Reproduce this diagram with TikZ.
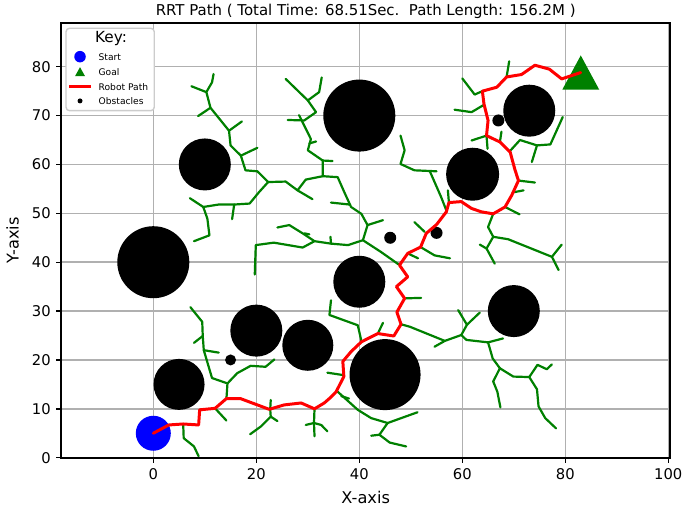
\documentclass[tikz,border=0pt]{standalone}
\usepackage{fontspec}
\setmainfont{DejaVu Sans}
\usetikzlibrary{positioning}
\definecolor{treegreen}{HTML}{008000}
\definecolor{gridgray}{HTML}{B0B0B0}
\definecolor{keyframe}{HTML}{CCCCCC}

\begin{document}
\begin{tikzpicture}[x=0.103cm, y=0.09775cm,
    font=\fontsize{8.4}{10}\selectfont,
    gridline/.style={draw=gridgray, line width=0.9pt},
    branch/.style  ={draw=treegreen, line width=1.25pt, line join=round, line cap=round},
    robot/.style   ={draw=red, line width=1.7pt, line join=round, line cap=round},
    tlabel/.style  ={inner sep=0pt},
    keytext/.style ={font=\fontsize{5.2}{6}\selectfont, anchor=west, inner sep=0pt},
  ]
  \useasboundingbox (-29.77,-10.09) rectangle (103.24,93.65);
  % grid
  \foreach \x in {0,20,...,100}
    \draw[gridline] (\x,0) -- (\x,88.9);
  \foreach \y in {0,10,...,80}
    \draw[gridline] (-17.92,\y) -- (100.4,\y);
  % obstacles
  \foreach \cx/\cy/\r in {40/70/0.72cm, 10/60/0.52cm, 0/40/0.72cm, 62/58/0.53cm, 73/71/0.52cm,
      40/36/0.52cm, 70/30/0.52cm, 20/26/0.52cm, 30/23/0.51cm, 45/17/0.71cm, 5/15/0.51cm,
      15/20/0.11cm, 46/45/0.12cm, 55/46/0.12cm, 67/69/0.12cm}
    \fill (\cx,\cy) circle[radius=\r];
  % tree
  \draw[branch] (11.7,78.5) -- (11.4,76.8) -- (10.3,74.8) -- (11.1,71.6) -- (14.7,66.9) -- (15.0,63.9) -- (17.0,61.8) -- (17.9,58.8) -- (20.2,58.6) -- (22.3,56.4);
  \draw[branch] (10.3,74.8) -- (7.4,76.0);
  \draw[branch] (11.1,71.6) -- (8.7,69.9);
  \draw[branch] (14.7,66.9) -- (17.2,68.8);
  \draw[branch] (17.0,61.8) -- (20.2,63.4);
  \draw[branch] (7.1,53.1) -- (9.7,51.3) -- (12.7,51.8) -- (15.7,51.8) -- (18.7,52.0) -- (20.5,54.3) -- (22.3,56.4);
  \draw[branch] (15.7,51.8) -- (15.3,48.8);
  \draw[branch] (9.7,51.3) -- (10.5,48.9) -- (10.9,45.5) -- (7.9,44.3);
  \draw[branch] (19.7,37.5) -- (19.9,43.5) -- (23.4,44.0) -- (29.0,43.0) -- (31.3,44.3) -- (34.5,43.8) -- (37.8,43.5) -- (40.7,44.5);
  \draw[branch] (24.1,47.1) -- (26.4,47.6) -- (29.0,45.9) -- (31.3,44.3);
  \draw[branch] (29.3,45.9) -- (30.3,45.7);
  \draw[branch] (34.4,45.2) -- (34.5,43.8);
  \draw[branch] (22.3,56.4) -- (25.7,56.5) -- (28.0,54.7) -- (30.9,52.9);
  \draw[branch] (28.0,54.7) -- (29.6,56.9) -- (32.9,57.6) -- (35.8,57.4) -- (37.1,54.3) -- (38.4,51.3) -- (40.4,49.9) -- (41.6,47.6) -- (40.7,44.5) -- (44.2,42.1) -- (47.7,39.5);
  \draw[branch] (34.5,52.2) -- (38.1,51.8);
  \draw[branch] (41.6,47.6) -- (44.6,48.6);
  \draw[branch] (32.9,57.6) -- (32.9,60.8) -- (30.0,62.9) -- (30.6,65.2) -- (28.3,70.1);
  \draw[branch] (32.9,60.8) -- (34.8,60.7);
  \draw[branch] (30.3,64.3) -- (31.6,64.7);
  \draw[branch] (25.7,77.5) -- (30.0,73.1) -- (31.6,70.7) -- (29.3,69.0) -- (26.1,69.1);
  \draw[branch] (30.0,73.1) -- (32.2,74.8) -- (32.7,77.8);
  \draw[branch] (48.0,65.9) -- (48.8,62.9) -- (48.0,60.1) -- (50.7,58.8) -- (55.0,58.6);
  \draw[branch] (53.7,58.6) -- (55.9,53.3) -- (56.9,50.6);
  \draw[branch] (57.2,54.7) -- (57.4,52.2);
  \draw[branch] (50.7,48.2) -- (52.7,46.2);
  \draw[branch] (51.9,43.1) -- (54.6,41.4) -- (57.6,40.8);
  \draw[branch] (49.4,41.8) -- (51.4,40.8);
  \draw[branch] (48.8,32.6) -- (52.0,32.7);
  \draw[branch] (34.5,32.2) -- (34.2,29.2) -- (39.7,27.1) -- (40.4,23.9);
  \draw[branch] (43.6,25.4) -- (44.6,27.6);
  \draw[branch] (58.5,71.2) -- (61.8,70.7) -- (64.2,72.2);
  \draw[branch] (60.0,77.6) -- (62.4,74.3) -- (63.9,75.0);
  \draw[branch] (69.1,81.1) -- (68.6,77.9);
  \draw[branch] (61.8,64.9) -- (64.7,65.9) -- (64.9,63.2);
  \draw[branch] (67.6,66.7) -- (67.3,64.6);
  \draw[branch] (69.3,62.8) -- (71.2,65.0) -- (74.5,63.9) -- (77.1,64.1) -- (79.5,69.7);
  \draw[branch] (74.5,63.9) -- (73.5,60.5);
  \draw[branch] (70.9,56.7) -- (74.1,56.3);
  \draw[branch] (69.9,54.3) -- (71.9,54.7);
  \draw[branch] (68.3,51.3) -- (71.1,49.8);
  \draw[branch] (66.0,49.9) -- (65.0,47.2) -- (66.0,45.2) -- (64.7,42.8) -- (63.4,43.6);
  \draw[branch] (64.7,42.8) -- (66.3,39.7);
  \draw[branch] (66.0,45.2) -- (68.9,44.7) -- (71.5,43.6) -- (77.4,41.1) -- (79.3,43.6);
  \draw[branch] (77.4,41.1) -- (78.7,38.4);
  \draw[branch] (48.1,27.3) -- (49.8,26.8) -- (56.6,23.9) -- (59.8,25.1) -- (60.8,24.1) -- (65.0,23.6) -- (67.9,24.4);
  \draw[branch] (56.6,23.9) -- (54.6,22.7);
  \draw[branch] (59.8,25.1) -- (60.9,27.2) -- (63.4,29.7);
  \draw[branch] (60.9,27.2) -- (59.2,30.2);
  \draw[branch] (65.0,23.6) -- (65.9,20.3) -- (67.3,18.3) -- (69.9,16.6) -- (73.0,16.5) -- (74.6,19.0) -- (76.4,18.1) -- (77.4,19.1);
  \draw[branch] (73.0,16.5) -- (74.5,14.0) -- (74.8,10.5) -- (76.1,8.1) -- (78.2,6.0);
  \draw[branch] (67.3,18.3) -- (66.0,15.6) -- (66.8,13.5) -- (67.4,10.3);
  \draw[branch] (33.8,17.4) -- (36.9,16.9);
  \draw[branch] (35.8,13.5) -- (39.7,9.8) -- (42.3,8.1) -- (45.5,7.1) -- (51.3,9.3);
  \draw[branch] (45.5,7.1) -- (43.9,4.7) -- (45.9,3.1) -- (49.1,2.3);
  \draw[branch] (43.9,4.7) -- (42.3,4.5);
  \draw[branch] (36.5,12.6) -- (38.0,12.1);
  \draw[branch] (31.3,10.0) -- (31.2,7.1) -- (29.6,6.7);
  \draw[branch] (31.2,7.1) -- (32.6,6.7) -- (33.8,5.4);
  \draw[branch] (31.2,7.1) -- (31.3,4.4);
  \draw[branch] (18.8,4.8) -- (20.9,6.4) -- (22.8,8.4) -- (22.7,9.9) -- (22.8,11.8);
  \draw[branch] (22.8,8.4) -- (24.1,7.5);
  \draw[branch] (7.2,30.8) -- (9.5,27.8) -- (9.6,24.9) -- (9.8,22.0) -- (11.4,16.3) -- (14.4,15.2) -- (14.2,12.1);
  \draw[branch] (9.6,24.9) -- (7.9,23.5);
  \draw[branch] (9.8,22.0) -- (12.7,21.5);
  \draw[branch] (14.4,15.2) -- (16.3,17.3) -- (18.9,18.8) -- (21.8,18.6) -- (23.5,20.1);
  \draw[branch] (12.0,10.1) -- (14.2,7.6);
  \draw[branch] (5.8,6.9) -- (5.9,4.0) -- (7.9,2.3) -- (8.8,0.3);
  % start and goal
  \coordinate (start) at (0,5);
  \coordinate (goal) at (83,78.8);
  \fill[blue] (start) circle[radius=0.35cm];
  \fill[treegreen] (goal) ++(0,0.343cm) -- ++(0.37cm,-0.686cm) -- ++(-0.74cm,0) -- cycle;
  % robot path
  \draw[robot] (start) -- (3.0,6.7) -- (5.8,6.9) -- (8.8,6.7) -- (9.0,9.8) -- (12.0,10.1) -- (14.2,12.1) -- (16.9,12.1)
    -- (22.5,9.9) -- (25.4,10.8) -- (28.7,11.2) -- (31.3,10.0) -- (33.2,11.2) -- (34.5,12.4) -- (35.5,13.5) -- (37.0,16.6)
    -- (36.8,19.7) -- (38.4,21.7) -- (40.4,23.7) -- (43.6,25.4) -- (46.7,24.9) -- (48.1,27.3) -- (47.3,29.8) -- (48.8,32.6)
    -- (47.2,35.0) -- (49.4,37.0) -- (47.8,39.4) -- (49.4,41.8) -- (51.9,43.1) -- (53.0,45.9) -- (55.0,47.7) -- (56.9,50.3)
    -- (57.4,52.2) -- (59.8,52.4) -- (61.8,51.0) -- (63.7,50.3) -- (66.0,49.9) -- (68.3,51.3) -- (69.6,53.7) -- (70.9,56.7)
    -- (70.2,59.0) -- (69.3,62.5) -- (67.3,64.6) -- (64.7,65.9) -- (65.0,69.0) -- (64.2,72.4) -- (63.9,75.0) -- (66.7,75.8)
    -- (68.6,77.9) -- (71.5,78.4) -- (74.1,80.3) -- (76.9,79.5) -- (79.3,77.5) -- (goal);
  % axes
  \draw[line width=1pt] (-17.92,0) rectangle (100.4,88.9);
  \foreach \x in {0,20,...,100}{
    \draw[line width=0.8pt] (\x,0) -- (\x,-1.0);
    \node[tlabel, anchor=north] (xt\x) at (\x,-2.1) {\x};
  }
  \foreach \y in {0,10,...,80}{
    \draw[line width=0.8pt] (-17.92,\y) -- (-18.92,\y);
    \node[tlabel, anchor=east] (yt\y) at (-19.86,\y) {\y};
  }
  \node[font=\fontsize{9.2}{11}\selectfont] (xlab) at (41.24,-8.04) {X-axis};
  \node[font=\fontsize{9.2}{11}\selectfont, rotate=90] (ylab) at (-27.3,44.45) {Y-axis};
  \node[font=\fontsize{8.5}{10}\selectfont, anchor=base] (title) at (41.24,90.48)
    {RRT Path ( Total Time: 68.51Sec.\ \ Path Length: 156.2M )};
  % key
  \draw[keyframe, fill=white, rounded corners=2pt, line width=0.8pt] (-16.95,71.0) rectangle (0.19,87.86);
  \node[font=\fontsize{8.7}{10}\selectfont] (keyttl) at (-8.21,85.81) {Key:};
  \fill[blue] (-14.23,82.05) circle[radius=0.115cm];
  \node[keytext] (kstart) at (-10.68,82.05) {Start};
  \fill[treegreen] (-14.23,78.98) ++(0,0.09cm) -- ++(0.1cm,-0.18cm) -- ++(-0.2cm,0) -- cycle;
  \node[keytext] (kgoal) at (-10.68,78.98) {Goal};
  \draw[robot, line cap=butt] (-16.37,75.85) -- (-12.1,75.85);
  \node[keytext] (kpath) at (-10.68,75.85) {Robot Path};
  \fill (-14.23,73.0) circle[radius=0.05cm];
  \node[keytext] (kobst) at (-10.68,73.0) {Obstacles};
\end{tikzpicture}
\end{document}
